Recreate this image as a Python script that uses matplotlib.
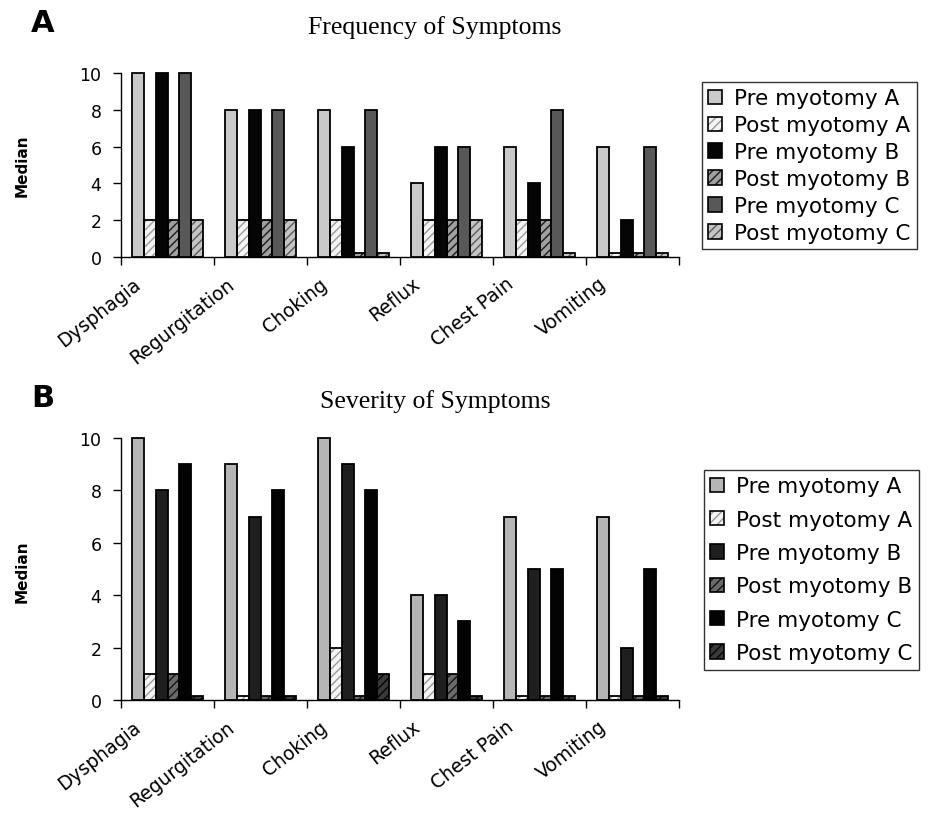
import numpy as np
import matplotlib
matplotlib.use("Agg")
import matplotlib.pyplot as plt
from matplotlib.legend_handler import HandlerTuple


symptoms = ["Dysphagia", "Regurgitation", "Choking", "Reflux", "Chest Pain", "Vomiting"]
series = ["Pre myotomy A", "Post myotomy A", "Pre myotomy B",
          "Post myotomy B", "Pre myotomy C", "Post myotomy C"]

# Frequency of symptoms (median); zero medians show as a thin sliver in the source
freq_pre_a = [10, 8, 8, 4, 6, 6]
freq_post_a = [2, 2, 2, 2, 2, 0.2]
freq_pre_b = [10, 8, 6, 6, 4, 2]
freq_post_b = [2, 2, 0.2, 2, 2, 0.2]
freq_pre_c = [10, 8, 8, 6, 8, 6]
freq_post_c = [2, 2, 0.2, 2, 0.2, 0.2]

# Severity of symptoms (median)
sev_pre_a = [10, 9, 10, 4, 7, 7]
sev_post_a = [1, 0.15, 2, 1, 0.15, 0.15]
sev_pre_b = [8, 7, 9, 4, 5, 2]
sev_post_b = [1, 0.15, 0.15, 1, 0.15, 0.15]
sev_pre_c = [9, 8, 8, 3, 5, 5]
sev_post_c = [0.15, 0.15, 1, 0.15, 0.15, 0.15]

# (face colour, hatch, hatch colour) per series
style_a = [("#c9c9c9", None, None),
           ("#f4f4f4", "////", "#9a9a9a"),
           ("#050505", None, None),
           ("#a0a0a0", "////", "#1a1a1a"),
           ("#585858", None, None),
           ("#c4c4c4", "////", "#5a5a5a")]
style_b = [("#b5b5b5", None, None),
           ("#f4f4f4", "////", "#9a9a9a"),
           ("#1f1f1f", None, None),
           ("#6a6a6a", "////", "#151515"),
           ("#030303", None, None),
           ("#3a3a3a", "////", "#050505")]

plt.rcParams["font.family"] = "DejaVu Sans"
plt.rcParams["hatch.linewidth"] = 1.0

fig = plt.figure(figsize=(9.46, 8.2), dpi=100)
W, H = 946, 820
ax_a = fig.add_axes([121 / W, 1 - 258 / H, 558 / W, 184 / H])
ax_b = fig.add_axes([121 / W, 1 - 701 / H, 558 / W, 262 / H])

x = np.arange(len(symptoms))
bw = 0.129


def draw(ax, data, styles):
    handles = []
    for k, (vals, (fc, hatch, hc)) in enumerate(zip(data, styles)):
        pos = x + (k - 2.5) * bw
        if hatch:
            ax.bar(pos, vals, bw, color=fc, hatch=hatch, edgecolor=hc,
                   linewidth=0, clip_on=False, zorder=2)
        ax.bar(pos, vals, bw, facecolor=fc if not hatch else "none",
               edgecolor="black", linewidth=1.3, clip_on=False, zorder=3)
        p1 = plt.Rectangle((0, 0), 1, 1, facecolor=fc, hatch=hatch,
                           edgecolor=hc if hatch else fc, linewidth=0)
        p2 = plt.Rectangle((0, 0), 1, 1, facecolor="none",
                           edgecolor="black", linewidth=1.2)
        handles.append((p1, p2))

    ax.set_xlim(-0.5, len(symptoms) - 0.5)
    ax.set_ylim(0, 10)
    ax.set_yticks(range(0, 11, 2))
    ax.set_xticks(np.arange(-0.5, len(symptoms)), labels=[])
    ax.set_xticks(x - 0.37, labels=symptoms, minor=True)
    ax.tick_params(axis="x", which="minor", length=0, pad=12)
    ax.tick_params(axis="x", which="major", length=6, direction="out", width=1)
    ax.tick_params(axis="y", length=6, direction="out", width=1, labelsize=12.5, pad=8)
    for lab in ax.get_xticklabels(minor=True):
        lab.set_rotation(38)
        lab.set_ha("right")
        lab.set_rotation_mode("anchor")
        lab.set_fontsize(13.5)
    for s in ["top", "right"]:
        ax.spines[s].set_visible(False)
    for s in ["left", "bottom"]:
        ax.spines[s].set_linewidth(1)
    return handles


h_a = draw(ax_a, [freq_pre_a, freq_post_a, freq_pre_b, freq_post_b, freq_pre_c, freq_post_c], style_a)
h_b = draw(ax_b, [sev_pre_a, sev_post_a, sev_pre_b, sev_post_b, sev_pre_c, sev_post_c], style_b)

leg_kw = dict(handler_map={tuple: HandlerTuple(ndivide=1)}, loc="upper left",
              fontsize=15.5, frameon=True, fancybox=False, edgecolor="black",
              handlelength=0.65, handleheight=0.65, handletextpad=0.55,
              borderpad=0.3, borderaxespad=0)
leg_a = fig.legend(h_a, series, bbox_to_anchor=(702 / W, 1 - 83 / H),
                   labelspacing=0.32, **leg_kw)
leg_b = fig.legend(h_b, series, bbox_to_anchor=(704 / W, 1 - 471 / H),
                   labelspacing=0.62, **leg_kw)
for leg in (leg_a, leg_b):
    leg.get_frame().set_linewidth(1)

fig.text(435 / W, 1 - 28 / H, "Frequency of Symptoms", family="Liberation Serif",
         fontsize=18.5, ha="center", va="center")
fig.text(435 / W, 1 - 402 / H, "Severity of Symptoms", family="Liberation Serif",
         fontsize=18.5, ha="center", va="center")
fig.text(43 / W, 1 - 23 / H, "A", fontsize=22, fontweight="bold", ha="center", va="center")
fig.text(43 / W, 1 - 399 / H, "B", fontsize=22, fontweight="bold", ha="center", va="center")
fig.text(22 / W, 1 - 166 / H, "Median", fontsize=11, fontweight="bold",
         rotation=90, ha="center", va="center")
fig.text(22 / W, 1 - 572 / H, "Median", fontsize=11, fontweight="bold",
         rotation=90, ha="center", va="center")

fig.savefig("out.png", dpi=100)
